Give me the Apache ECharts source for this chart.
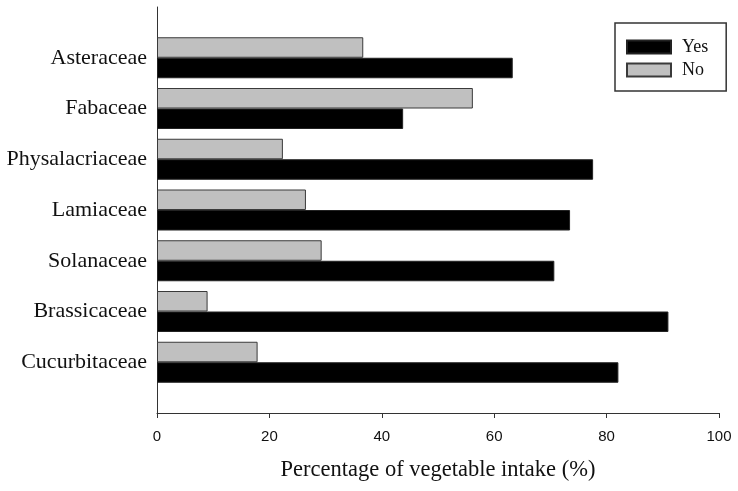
<!DOCTYPE html>
<html>
<head>
<meta charset="utf-8">
<script src="https://cdn.jsdelivr.net/npm/echarts@6/dist/echarts.min.js"></script>
<style>html,body{margin:0;padding:0;background:#fff}#c{width:738px;height:491px}</style>
</head>
<body>
<div id="c"></div>
<script>
const categories = ['Asteraceae','Fabaceae','Physalacriaceae','Lamiaceae','Solanaceae','Brassicaceae','Cucurbitaceae'];
const yesValues = [63.3, 43.8, 77.6, 73.5, 70.7, 91.0, 82.1];
const noValues = [36.7, 56.2, 22.4, 26.5, 29.3, 9.0, 17.9];
const xTicks = [0, 20, 40, 60, 80, 100];

// pad one empty slot at each end so the axis extends half a band beyond the groups
const padCats = [''].concat(categories, ['']);
const padYes = [null].concat(yesValues, [null]);
const padNo = [null].concat(noValues, [null]);

const chart = echarts.init(document.getElementById('c'), null, {renderer: 'canvas'});
chart.setOption({
  backgroundColor: '#fff',
  animation: false,
  grid: {left: 157, right: 19, top: 7, bottom: 78, containLabel: false},
  legend: {
    data: ['Yes', 'No'],
    icon: 'rect',
    orient: 'vertical',
    left: 615, top: 23,
    padding: [15, 18, 12, 11],
    itemWidth: 44, itemHeight: 13, itemGap: 5,
    borderColor: '#333', borderWidth: 1.5,
    textStyle: {fontFamily: 'Liberation Serif', fontSize: 18, color: '#111', padding: [0, 0, 0, 6]}
  },
  xAxis: {
    type: 'value', min: xTicks[0], max: xTicks[xTicks.length - 1], interval: 20,
    name: 'Percentage of vegetable intake (%)',
    nameLocation: 'middle', nameGap: 46,
    nameTextStyle: {fontFamily: 'Liberation Serif', fontSize: 22.5, color: '#111'},
    axisLine: {show: true, lineStyle: {color: '#333', width: 1}},
    axisTick: {show: true, length: 5, inside: false, lineStyle: {color: '#333'}},
    axisLabel: {fontFamily: 'Liberation Sans', fontSize: 15, color: '#111', margin: 16},
    splitLine: {show: false}
  },
  yAxis: {
    type: 'category', data: padCats, inverse: true, boundaryGap: false,
    axisLine: {show: true, lineStyle: {color: '#333', width: 1}},
    axisTick: {show: false},
    axisLabel: {fontFamily: 'Liberation Serif', fontSize: 22, color: '#111', margin: 10},
    splitLine: {show: false}
  },
  series: [
    {
      name: 'No', type: 'bar', data: padNo, barWidth: 20.5, barGap: '0%',
      itemStyle: {color: '#c0c0c0', borderColor: '#3a3a3a', borderWidth: 1}
    },
    {
      name: 'Yes', type: 'bar', data: padYes, barWidth: 20.5, barGap: '0%',
      itemStyle: {color: '#000', borderColor: '#222', borderWidth: 1}
    }
  ]
});
</script>
</body>
</html>
